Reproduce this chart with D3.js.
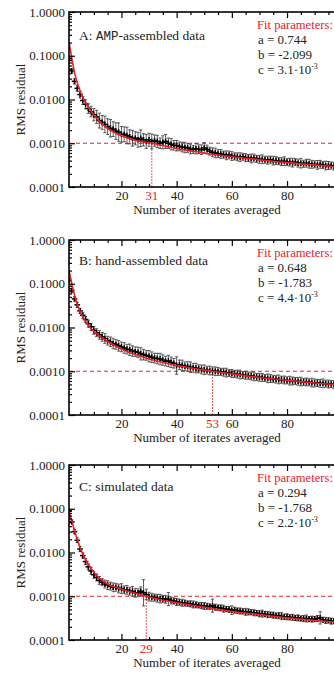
<!DOCTYPE html>
<html><head><meta charset="utf-8">
<script src="https://cdn.jsdelivr.net/npm/d3@7"></script>
<style>body{margin:0;background:#fff}svg{display:block}</style>
</head><body>
<svg id="chart" width="334" height="675"></svg>
<script>
// ---------- data ----------
const iterates = d3.range(1, 101);

const rmsA = [0.085,0.045,0.026,0.018,0.013,0.0095,0.0078,0.0062,0.0053,0.0045,
0.0040,0.0033,0.0030,0.0027,0.0024,0.0022,0.0021,0.0019,0.0018,0.0016,
0.0016,0.0015,0.0014,0.0013,0.0013,0.0012,0.0013,0.0012,0.0011,0.0012,
0.0011,0.00115,0.0011,0.0010,0.00105,0.0011,0.0010,0.00095,0.0009,0.00088,
0.00085,0.00082,0.0008,0.00078,0.00074,0.00072,0.00075,0.00073,0.00071,0.00078,
0.00072,0.00066,0.00062,0.0006,0.00058,0.00057,0.00055,0.00053,0.00054,0.00051,
0.0005,0.00049,0.00048,0.00049,0.00047,0.00046,0.00045,0.00046,0.00044,0.00043,
0.00043,0.00042,0.00041,0.00042,0.0004,0.0004,0.00039,0.00038,0.00039,0.00037,
0.00037,0.00036,0.00037,0.00035,0.00035,0.00034,0.00035,0.00034,0.00033,0.00033,
0.00032,0.00033,0.00032,0.00031,0.00031,0.00031,0.0003,0.0003,0.0003,0.00029];

const errDexA = [0.04,0.05,0.06,0.07,0.08,0.09,0.10,0.11,0.12,0.14,
0.15,0.17,0.16,0.19,0.18,0.20,0.17,0.19,0.21,0.18,
0.17,0.19,0.16,0.18,0.15,0.17,0.19,0.14,0.16,0.15,
0.17,0.13,0.14,0.12,0.15,0.16,0.12,0.13,0.11,0.12,
0.10,0.11,0.12,0.10,0.11,0.09,0.12,0.10,0.11,0.12,
0.10,0.09,0.10,0.11,0.09,0.10,0.08,0.10,0.09,0.10,
0.08,0.09,0.10,0.08,0.09,0.08,0.10,0.09,0.08,0.09,
0.10,0.08,0.09,0.08,0.10,0.09,0.08,0.09,0.10,0.08,
0.09,0.10,0.08,0.09,0.11,0.08,0.09,0.10,0.09,0.08,
0.10,0.09,0.08,0.10,0.09,0.08,0.09,0.10,0.08,0.09];

const rmsB = [0.12,0.07,0.045,0.033,0.024,0.019,0.0152,0.0122,0.0104,0.0086,
0.0076,0.0068,0.0061,0.0056,0.0050,0.0047,0.0043,0.0041,0.0038,0.0036,
0.0034,0.0032,0.0031,0.0029,0.0028,0.0027,0.0025,0.0024,0.0023,0.0022,
0.0021,0.0020,0.00195,0.0019,0.0018,0.0017,0.00172,0.0016,0.00152,0.00135,
0.0014,0.00136,0.0013,0.00128,0.00124,0.0012,0.00118,0.00114,0.0011,0.00108,
0.00106,0.00104,0.00102,0.001,0.00099,0.00097,0.00095,0.00093,0.00091,0.00089,
0.00087,0.00086,0.00084,0.00082,0.00081,0.00079,0.00078,0.00076,0.00074,0.00073,
0.00072,0.0007,0.00069,0.00068,0.00067,0.00066,0.00065,0.00064,0.00063,0.00062,
0.00061,0.0006,0.0006,0.00059,0.00058,0.00057,0.00057,0.00056,0.00055,0.00054,
0.00054,0.00053,0.00053,0.00052,0.00051,0.00051,0.0005,0.0005,0.00049,0.00049];

const errDexB = [0.03,0.04,0.05,0.06,0.06,0.07,0.07,0.08,0.08,0.09,
0.09,0.10,0.10,0.11,0.10,0.11,0.12,0.11,0.12,0.11,
0.12,0.11,0.13,0.12,0.11,0.12,0.14,0.12,0.11,0.13,
0.12,0.11,0.12,0.13,0.12,0.11,0.13,0.12,0.11,0.20,
0.11,0.12,0.10,0.11,0.12,0.10,0.11,0.09,0.10,0.11,
0.09,0.10,0.09,0.10,0.09,0.08,0.09,0.10,0.08,0.09,
0.08,0.09,0.10,0.08,0.09,0.08,0.09,0.10,0.08,0.09,
0.09,0.08,0.10,0.09,0.08,0.09,0.10,0.08,0.09,0.08,
0.10,0.09,0.08,0.09,0.10,0.08,0.09,0.08,0.10,0.09,
0.08,0.09,0.10,0.08,0.09,0.08,0.09,0.10,0.08,0.09];

const rmsC = [0.09,0.05,0.03,0.019,0.012,0.0085,0.0062,0.0047,0.0038,0.0031,
0.0027,0.0023,0.0021,0.0019,0.0018,0.0017,0.0016,0.0016,0.0015,0.0015,
0.0014,0.0014,0.0013,0.0013,0.0012,0.0012,0.0013,0.0012,0.0011,0.00098,
0.00095,0.00093,0.0009,0.00088,0.00087,0.00085,0.00086,0.0008,0.00078,0.00074,
0.00073,0.00071,0.0007,0.00068,0.00067,0.00065,0.00064,0.00062,0.00061,0.0006,
0.00059,0.00058,0.00061,0.00056,0.00055,0.00054,0.00052,0.00051,0.0005,0.00048,
0.00048,0.00047,0.00046,0.00045,0.00044,0.00044,0.00043,0.00042,0.00041,0.0004,
0.0004,0.00039,0.00038,0.00038,0.00037,0.00036,0.00036,0.00035,0.00034,0.00034,
0.00033,0.00033,0.00032,0.00032,0.00031,0.00031,0.00031,0.0003,0.0003,0.0003,
0.00031,0.00032,0.00029,0.00028,0.00028,0.00027,0.00027,0.00027,0.00026,0.00026];

const errDexC = [0.03,0.04,0.05,0.05,0.06,0.06,0.07,0.07,0.08,0.08,
0.08,0.09,0.08,0.09,0.10,0.09,0.10,0.09,0.10,0.11,
0.09,0.10,0.09,0.11,0.10,0.09,0.10,0.30,0.12,0.10,
0.09,0.08,0.09,0.10,0.08,0.09,0.15,0.08,0.07,0.08,
0.07,0.08,0.07,0.06,0.07,0.08,0.07,0.06,0.07,0.08,
0.07,0.06,0.15,0.07,0.06,0.07,0.08,0.06,0.07,0.10,
0.07,0.06,0.07,0.06,0.08,0.07,0.06,0.07,0.06,0.07,
0.08,0.06,0.07,0.06,0.07,0.06,0.07,0.08,0.06,0.07,
0.06,0.07,0.06,0.07,0.06,0.07,0.08,0.06,0.07,0.06,
0.07,0.14,0.06,0.07,0.06,0.07,0.06,0.07,0.06,0.07];

// fitted curves at sample points
const fitXA = [1,2,3,4,5,6,7,8,10,12,15,20,25,31,40,50,60,70,80,90,100];
const fitYA = [0.209,0.0891,0.0417,0.024,0.0158,0.0112,0.0085,0.00676,0.00447,0.00316,0.00219,0.00148,0.00117,0.001,0.00076,0.0006,0.00049,0.00042,0.00036,0.00032,0.00028];
const fitXB = [1,2,3,4,5,6,7,8,10,12,15,20,25,30,40,53,60,70,80,90,100];
const fitYB = [0.204,0.1,0.055,0.0339,0.0234,0.0174,0.0138,0.0112,0.00813,0.00646,0.00479,0.00324,0.0024,0.0019,0.00135,0.001,0.00087,0.00072,0.00062,0.00054,0.00048];
const fitXC = [1,2,3,4,5,6,7,8,10,12,15,20,25,29,35,40,50,60,70,80,90,100];
const fitYC = [0.085,0.0525,0.0316,0.02,0.0132,0.0093,0.0069,0.0054,0.00355,0.0026,0.0019,0.00145,0.00117,0.001,0.00081,0.00071,0.00056,0.00045,0.00038,0.00032,0.00028,0.00025];

const threshold = 0.001;
const crossings = [31, 53, 29];
const panelTitles = [["A: ", "AMP", "-assembled data"], ["B: hand-assembled data"], ["C: simulated data"]];
const paramA = ["0.744", "0.648", "0.294"];
const paramB = ["-2.099", "-1.783", "-1.768"];
const paramC = ["3.1", "4.4", "2.2"];

const yTickValues = [1, 0.1, 0.01, 0.001, 0.0001];
const yTickLabels = ["1.0000", "0.1000", "0.0100", "0.0010", "0.0001"];
const xTickValues = [20, 40, 60, 80];
const yTitle = "RMS residual";
const xTitle = "Number of iterates averaged";

// ---------- drawing ----------
const svg = d3.select("#chart");
const RED = "#ee2026";
const SERIF = "'Liberation Serif', 'Times New Roman', serif";
const L = 69, W = 276, H = 175;
const tops = [12, 240, 465];
const titleOffsets = [27.5, 24.5, 26];

const panels = [
  {rms: rmsA, err: errDexA, fx: fitXA, fy: fitYA},
  {rms: rmsB, err: errDexB, fx: fitXB, fy: fitYB},
  {rms: rmsC, err: errDexC, fx: fitXC, fy: fitYC}
];

panels.forEach((p, i) => {
  const top = tops[i];
  const x = d3.scaleLinear().domain([1, 101]).range([L, L + W]);
  const y = d3.scaleLog().domain([1e-4, 1]).range([top + H, top]);
  const g = svg.append("g");

  const clipId = "clip" + i;
  g.append("clipPath").attr("id", clipId).append("rect")
    .attr("x", L).attr("y", top).attr("width", W).attr("height", H);
  const plot = g.append("g").attr("clip-path", `url(#${clipId})`);

  plot.append("line")
    .attr("x1", L).attr("x2", L + W)
    .attr("y1", y(threshold)).attr("y2", y(threshold))
    .attr("stroke", RED).attr("stroke-width", 1.2).attr("stroke-dasharray", "4,3");
  plot.append("line")
    .attr("x1", x(crossings[i])).attr("x2", x(crossings[i]))
    .attr("y1", y(threshold)).attr("y2", top + H)
    .attr("stroke", RED).attr("stroke-width", 1).attr("stroke-dasharray", "1.5,1.5");

  const pts = iterates.map((n, k) => ({n, v: p.rms[k], e: p.err[k]}));
  const eb = plot.append("g").attr("stroke", "#333").attr("stroke-width", 0.8).attr("fill", "none");
  pts.forEach(d => {
    const lo = d.v / Math.pow(10, d.e), hi = d.v * Math.pow(10, d.e);
    const cx = x(d.n);
    eb.append("line").attr("x1", cx).attr("x2", cx).attr("y1", y(lo)).attr("y2", y(hi));
    eb.append("line").attr("x1", cx - 1.6).attr("x2", cx + 1.6).attr("y1", y(lo)).attr("y2", y(lo));
    eb.append("line").attr("x1", cx - 1.6).attr("x2", cx + 1.6).attr("y1", y(hi)).attr("y2", y(hi));
  });
  const cr = plot.append("g").attr("stroke", "#000").attr("stroke-width", 1.5);
  pts.forEach(d => {
    const cx = x(d.n), cy = y(d.v);
    cr.append("line").attr("x1", cx - 2.8).attr("x2", cx + 2.8).attr("y1", cy).attr("y2", cy);
    cr.append("line").attr("x1", cx).attr("x2", cx).attr("y1", cy - 2.8).attr("y2", cy + 2.8);
  });
  const fitPts = p.fx.map((n, k) => [n, p.fy[k]]);
  plot.append("path").datum(fitPts)
    .attr("fill", "none").attr("stroke", RED).attr("stroke-width", 1.6)
    .attr("d", d3.line().x(d => x(d[0])).y(d => y(d[1])).curve(d3.curveMonotoneX));

  const minorY = y.ticks().filter(v => !yTickValues.some(t => Math.abs(t - v) / t < 1e-6));
  const minorX = d3.range(5, 101, 5).filter(v => !xTickValues.includes(v));
  const styleAxis = sel => { sel.select(".domain").remove(); sel.selectAll("line").attr("stroke", "#000").attr("stroke-width", 1.2); };

  g.append("g").attr("transform", `translate(${L},0)`)
    .call(d3.axisLeft(y).tickValues(yTickValues).tickFormat((d, k) => yTickLabels[k]).tickSize(-6).tickPadding(4))
    .call(styleAxis)
    .call(s => s.selectAll("text").attr("font-family", SERIF).attr("font-size", 13).attr("fill", "#222"));
  g.append("g").attr("transform", `translate(${L},0)`)
    .call(d3.axisLeft(y).tickValues(minorY).tickFormat("").tickSize(-3)).call(styleAxis);
  g.append("g").attr("transform", `translate(${L + W},0)`)
    .call(d3.axisRight(y).tickValues(yTickValues).tickFormat("").tickSize(-6)).call(styleAxis);
  g.append("g").attr("transform", `translate(${L + W},0)`)
    .call(d3.axisRight(y).tickValues(minorY).tickFormat("").tickSize(-3)).call(styleAxis);

  g.append("g").attr("transform", `translate(0,${top + H})`)
    .call(d3.axisBottom(x).tickValues(xTickValues).tickFormat(d3.format("d")).tickSize(-6).tickPadding(4))
    .call(styleAxis)
    .call(s => s.selectAll("text").attr("font-family", SERIF).attr("font-size", 13).attr("fill", "#222"));
  g.append("g").attr("transform", `translate(0,${top + H})`)
    .call(d3.axisBottom(x).tickValues(minorX).tickFormat("").tickSize(-3)).call(styleAxis);
  g.append("g").attr("transform", `translate(0,${top})`)
    .call(d3.axisTop(x).tickValues(xTickValues).tickFormat("").tickSize(-6)).call(styleAxis);
  g.append("g").attr("transform", `translate(0,${top})`)
    .call(d3.axisTop(x).tickValues(minorX).tickFormat("").tickSize(-3)).call(styleAxis);

  g.append("rect").attr("x", L).attr("y", top).attr("width", W).attr("height", H)
    .attr("fill", "none").attr("stroke", "#000").attr("stroke-width", 1.6);

  g.append("text").attr("x", x(crossings[i])).attr("y", top + H + 4).attr("dy", "0.71em")
    .attr("text-anchor", "middle").attr("font-family", SERIF).attr("font-size", 13)
    .attr("fill", RED).text(crossings[i]);

  g.append("text").attr("x", L + W / 2).attr("y", top + H + 27)
    .attr("text-anchor", "middle").attr("font-family", SERIF).attr("font-size", 13)
    .attr("fill", "#222").text(xTitle);
  g.append("text").attr("transform", `translate(25,${top + H / 2}) rotate(-90)`)
    .attr("text-anchor", "middle").attr("font-family", SERIF).attr("font-size", 13)
    .attr("fill", "#222").text(yTitle);

  const t = g.append("text").attr("x", 79).attr("y", top + titleOffsets[i])
    .attr("font-family", SERIF).attr("font-size", 13.5).attr("fill", "#222");
  panelTitles[i].forEach(part => {
    const ts = t.append("tspan").text(part);
    if (part === "AMP") ts.attr("font-family", "'Liberation Mono', monospace").attr("font-size", 12.5);
  });

  const px = 257;
  g.append("text").attr("x", px).attr("y", top + 16.5).attr("font-family", SERIF)
    .attr("font-size", 12.6).attr("fill", RED).text("Fit parameters:");
  g.append("text").attr("x", px + 1).attr("y", top + 31.5).attr("font-family", SERIF)
    .attr("font-size", 13).attr("fill", "#222").text("a = " + paramA[i]);
  g.append("text").attr("x", px + 1).attr("y", top + 46.5).attr("font-family", SERIF)
    .attr("font-size", 13).attr("fill", "#222").text("b = " + paramB[i]);
  const ct = g.append("text").attr("x", px + 1).attr("y", top + 61.5).attr("font-family", SERIF)
    .attr("font-size", 13).attr("fill", "#222");
  ct.append("tspan").text("c = " + paramC[i] + "\u00b710");
  ct.append("tspan").attr("dy", -5).attr("font-size", 8).text("-3");
});
</script>
</body></html>
